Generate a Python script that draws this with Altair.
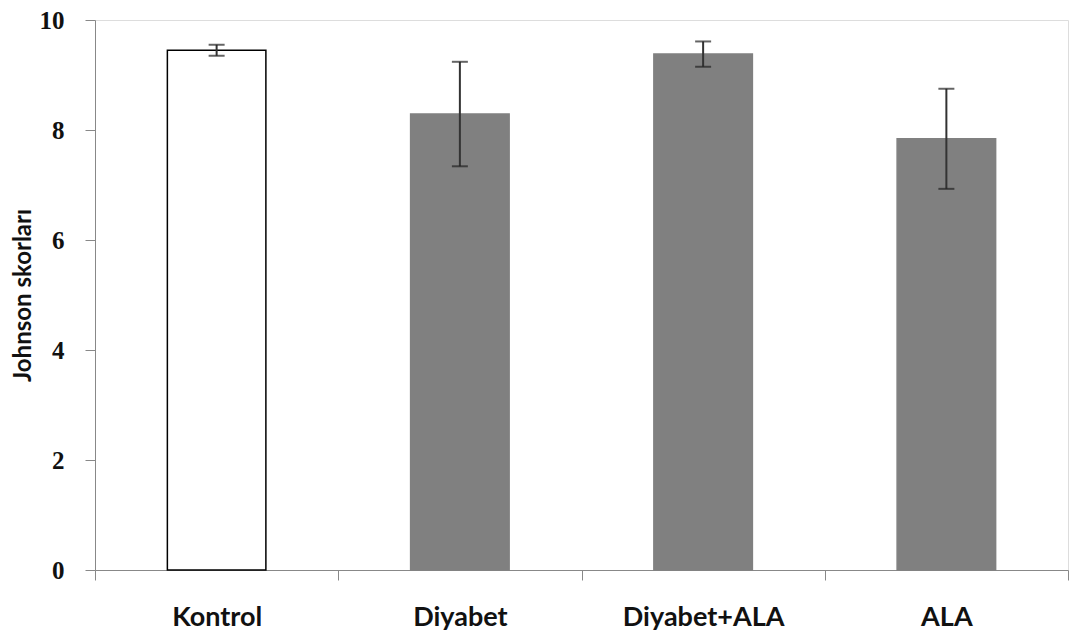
import altair as alt
import pandas as pd

groups = ["Kontrol", "Diyabet", "Diyabet+ALA", "ALA"]
means = [9.45, 8.29, 9.38, 7.84]
errors = [0.10, 0.95, 0.23, 0.91]
fills = ["#ffffff", "#808080", "#808080", "#808080"]
strokes = ["#000000", "#808080", "#808080", "#808080"]
y_ticks = [0, 2, 4, 6, 8, 10]

df = pd.DataFrame({"group": groups, "mean": means, "err": errors})

base = alt.Chart(df).transform_calculate(
    lo="datum.mean - datum.err", hi="datum.mean + datum.err"
)

x_enc = alt.X(
    "group:N",
    sort=groups,
    scale=alt.Scale(paddingInner=0, paddingOuter=0),
    axis=alt.Axis(
        title=None,
        tickBand="extent",
        tickSize=10,
        tickColor="#888888",
        domainColor="#888888",
        labelAngle=0,
        labelFont="Lato",
        labelFontWeight="bold",
        labelFontSize=27,
        labelColor="#111111",
        labelPadding=24,
    ),
)

y_scale = alt.Scale(domain=[0, 10], nice=False)

bars = base.mark_bar(width=alt.RelativeBandSize(0.405), strokeWidth=1.5).encode(
    x=x_enc,
    y=alt.Y(
        "mean:Q",
        scale=y_scale,
        axis=alt.Axis(
            title="Johnson skorları",
            values=y_ticks,
            grid=False,
            tickSize=10,
            tickColor="#888888",
            domainColor="#888888",
            labelFont="Liberation Serif",
            labelFontWeight="bold",
            labelFontSize=25,
            labelColor="#111111",
            labelPadding=21,
            titleFont="Lato",
            titleFontWeight="bold",
            titleFontSize=24,
            titleColor="#111111",
            titlePadding=4,
        ),
    ),
    color=alt.Color("group:N", scale=alt.Scale(domain=groups, range=fills), legend=None),
    stroke=alt.Stroke("group:N", scale=alt.Scale(domain=groups, range=strokes), legend=None),
)

rules = base.mark_rule(color="#333333", strokeWidth=2).encode(
    x=alt.X("group:N", sort=groups),
    y=alt.Y("lo:Q", scale=y_scale),
    y2="hi:Q",
)

caps_lo = base.mark_tick(color="#222222", thickness=2, size=16).encode(
    x=alt.X("group:N", sort=groups),
    y=alt.Y("lo:Q", scale=y_scale),
)
caps_hi = base.mark_tick(color="#222222", thickness=2, size=16).encode(
    x=alt.X("group:N", sort=groups),
    y=alt.Y("hi:Q", scale=y_scale),
)

chart = (
    alt.layer(bars, rules, caps_lo, caps_hi)
    .properties(
        width=973,
        height=550,
        autosize=alt.AutoSizeParams(type="none"),
        padding={"left": 87, "top": 12, "right": 3, "bottom": 63},
    )
    .configure_view(stroke=None)
    .configure(background="white")
)

chart.save("out.html", embed_options={"renderer": "svg", "actions": False})
